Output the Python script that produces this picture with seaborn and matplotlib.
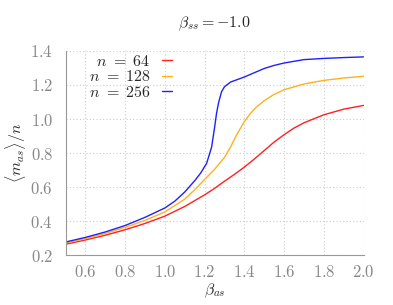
import matplotlib
matplotlib.use("Agg")
import matplotlib.pyplot as plt
import matplotlib.ticker as mticker
import pandas as pd
import seaborn as sns

# values
beta_64 = [0.5, 0.6, 0.7, 0.8, 0.9, 1.0, 1.1, 1.2, 1.25, 1.3, 1.35, 1.4, 1.45,
           1.5, 1.55, 1.6, 1.65, 1.7, 1.8, 1.9, 2.0]
m_64 = [0.265, 0.29, 0.318, 0.35, 0.387, 0.43, 0.487, 0.555, 0.593, 0.635, 0.675,
        0.718, 0.765, 0.815, 0.865, 0.908, 0.947, 0.978, 1.025, 1.058, 1.08]

beta_128 = [0.5, 0.6, 0.7, 0.8, 0.9, 1.0, 1.1, 1.15, 1.2, 1.25, 1.3, 1.33, 1.36,
            1.4, 1.43, 1.46, 1.5, 1.55, 1.6, 1.7, 1.8, 1.9, 2.0]
m_128 = [0.272, 0.298, 0.328, 0.364, 0.405, 0.455, 0.53, 0.585, 0.645, 0.705, 0.775,
         0.835, 0.905, 0.985, 1.032, 1.07, 1.108, 1.145, 1.172, 1.206, 1.227, 1.241,
         1.251]

beta_256 = [0.5, 0.6, 0.7, 0.8, 0.9, 1.0, 1.05, 1.1, 1.15, 1.18, 1.21, 1.235, 1.25,
            1.26, 1.27, 1.285, 1.3, 1.33, 1.4, 1.45, 1.5, 1.55, 1.6, 1.7, 1.8, 1.9,
            2.0]
m_256 = [0.278, 0.305, 0.337, 0.375, 0.423, 0.478, 0.518, 0.572, 0.638, 0.683, 0.74,
         0.835, 0.95, 1.035, 1.095, 1.16, 1.19, 1.217, 1.247, 1.272, 1.297, 1.315,
         1.329, 1.349, 1.356, 1.361, 1.365]

sizes = ["64", "128", "256"]
colors = ["#ff2020", "#ffb020", "#2020ff"]

frames = []
for n, b, m in zip(sizes, [beta_64, beta_128, beta_256], [m_64, m_128, m_256]):
    frames.append(pd.DataFrame({"beta": b, "m": m, "n": n}))
df = pd.concat(frames, ignore_index=True)

sns.set_style("white")
plt.rcParams["font.family"] = ["DejaVu Serif"]
plt.rcParams["mathtext.fontset"] = "cm"

fig = plt.figure(figsize=(3.93, 3.05), dpi=100)
ax = fig.add_axes([0.167, 0.163, 0.758, 0.670])

sns.lineplot(data=df, x="beta", y="m", hue="n", palette=dict(zip(sizes, colors)),
             estimator=None, sort=True, linewidth=1.0, ax=ax, legend=False)

ax.set_xlim(0.5, 2.0)
ax.set_ylim(0.2, 1.4)
ax.xaxis.set_major_locator(mticker.MultipleLocator(0.2))
ax.xaxis.set_minor_locator(mticker.MultipleLocator(0.1))
ax.yaxis.set_major_locator(mticker.MultipleLocator(0.2))
ax.yaxis.set_minor_locator(mticker.MultipleLocator(0.04))
fmt = mticker.FuncFormatter(lambda v, p: f"${v:.1f}$")
ax.xaxis.set_major_formatter(fmt)
ax.yaxis.set_major_formatter(fmt)

grey = "#999999"
ax.tick_params(which="both", direction="out", colors=grey, labelcolor="#888888",
               labelsize=12)
ax.tick_params(which="major", length=3)
ax.tick_params(which="minor", length=1.5)
ax.tick_params(axis="y", pad=6)
for side in ["top", "right"]:
    ax.spines[side].set_visible(False)
for side in ["left", "bottom"]:
    ax.spines[side].set_color(grey)
    ax.spines[side].set_linewidth(0.8)
ax.grid(True, which="major", linestyle=(0, (1, 2)), color="#cccccc", linewidth=0.8)

ax.set_xlabel(r"$\beta_{as}$", fontsize=11.5, labelpad=0)
ax.set_ylabel(r"$\langle m_{as}\rangle/n$", fontsize=11.5, labelpad=2)
ax.set_title(r"$\beta_{ss} = -1.0$", fontsize=11.5, pad=17)

handles = ax.get_lines()[:3]
ax.legend(handles, [f"$n\\ =\\ {n}$" for n in sizes], loc="upper left",
          bbox_to_anchor=(0.04, 1.045), markerfirst=False, frameon=False,
          handlelength=0.6, handletextpad=0.7, labelspacing=-0.1, fontsize=11.5,
          borderaxespad=0.3)

fig.savefig("out.png", dpi=100)
